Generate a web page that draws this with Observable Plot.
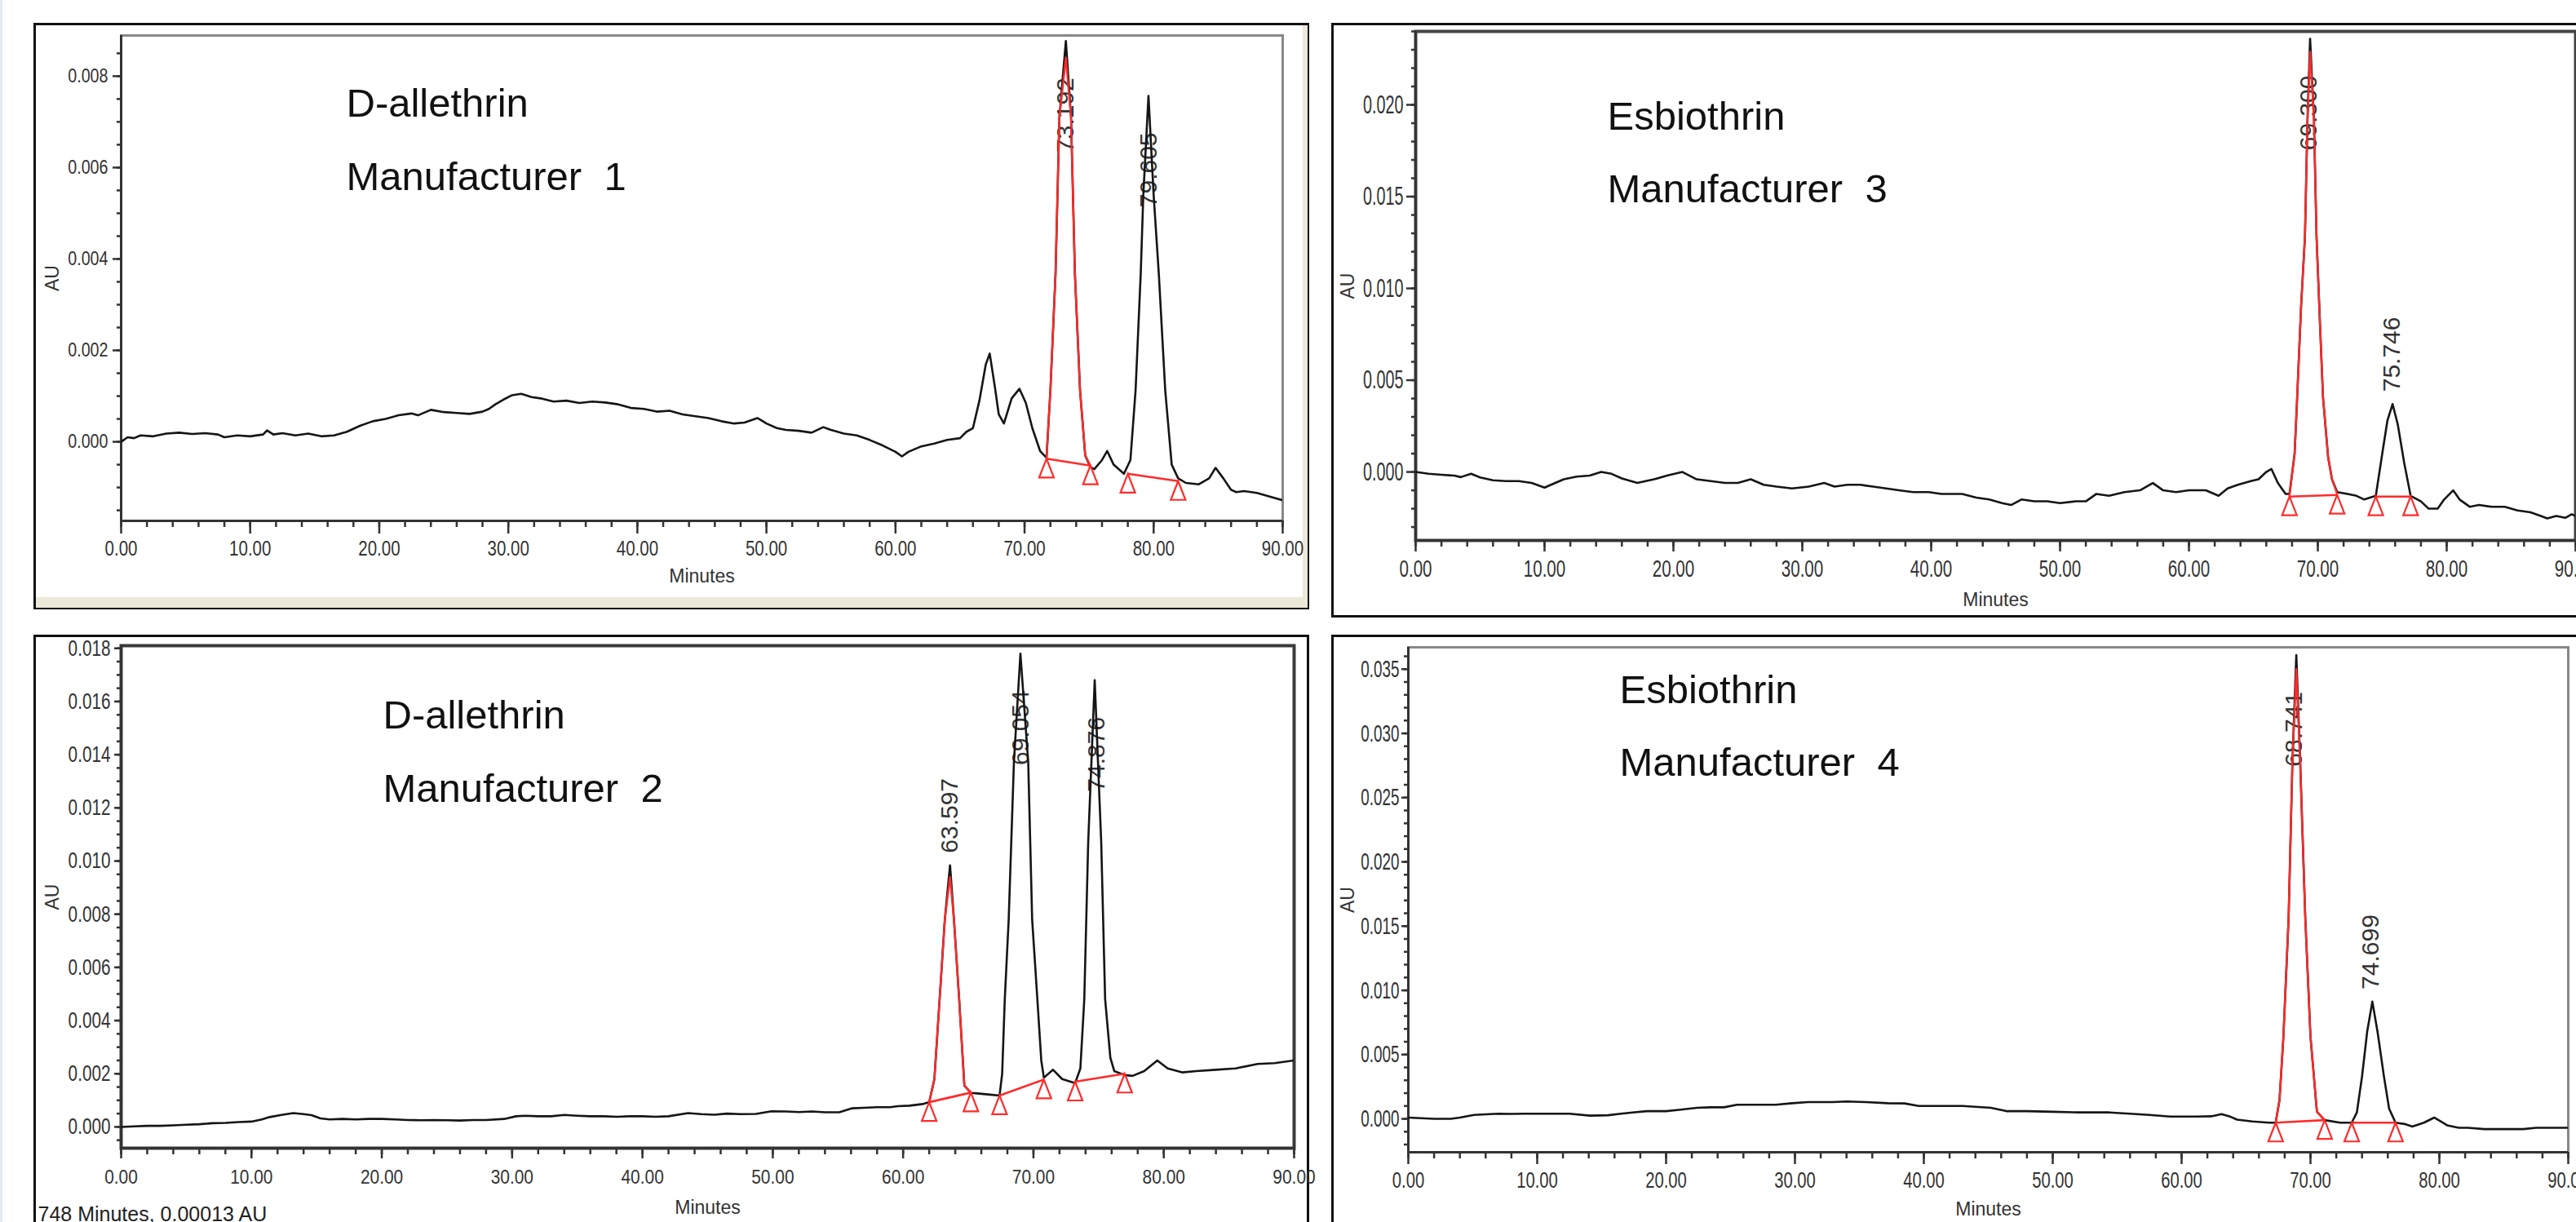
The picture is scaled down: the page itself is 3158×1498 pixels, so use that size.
<!DOCTYPE html>
<html>
<head>
<meta charset="utf-8">
<script src="https://cdn.jsdelivr.net/npm/d3@7"></script>
<script src="https://cdn.jsdelivr.net/npm/@observablehq/plot@0.6"></script>
<style>
html, body { margin: 0; padding: 0; background: #fff; }
body { position: relative; width: 3158px; height: 1498px; overflow: hidden; font-family: "Liberation Sans", Arial, sans-serif; }
.box { position: absolute; box-sizing: border-box; border: 3px solid #111; background: #fff; }
.strip { position: absolute; background: #ece9d8; }
</style>
</head>
<body>
<script>
// ---------------- shared axis ticks ----------------
const xMajorTicks = [0, 10, 20, 30, 40, 50, 60, 70, 80, 90];
const xMinorTicks = d3.range(0, 91, 2);

// ---------------- Panel 1: D-allethrin, Manufacturer 1 ----------------
const p1Names = ["D-allethrin", "Manufacturer  1"];
const p1YDomain = [-0.00173, 0.00889];
const p1YTicks = [0, 0.002, 0.004, 0.006, 0.008];
const p1YMinorStep = 0.0005;
const p1Trace = [
  [0,0.00000],[0.5,0.00010],[1,0.00008],[1.5,0.00014],[2.5,0.00012],[3.5,0.00018],[4.5,0.00020],[5.5,0.00017],
  [6.5,0.00019],[7.5,0.00016],[8,0.00010],[9,0.00014],[10,0.00012],[11,0.00016],[11.3,0.00025],[11.8,0.00016],
  [12.5,0.00019],[13.5,0.00014],[14.5,0.00018],[15.5,0.00012],[16.5,0.00014],[17.5,0.00022],[18.5,0.00035],
  [19.5,0.00045],[20.5,0.00050],[21.5,0.00058],[22.5,0.00062],[23,0.00058],[24,0.00070],[25,0.00065],[26,0.00063],
  [27,0.00061],[28,0.00066],[28.5,0.00072],[29,0.00082],[29.6,0.00092],[30.3,0.00102],[31,0.00105],[31.8,0.00098],
  [32.5,0.00095],[33.5,0.00088],[34.5,0.00090],[35.5,0.00085],[36.5,0.00088],[37.5,0.00086],[38.5,0.00082],
  [39.5,0.00074],[40.5,0.00072],[41.5,0.00066],[42.5,0.00068],[43.5,0.00060],[44.5,0.00056],[45.5,0.00052],
  [46.5,0.00045],[47.5,0.00040],[48.3,0.00042],[49.3,0.00052],[50,0.00040],[50.8,0.00030],[51.5,0.00026],
  [52.5,0.00024],[53.5,0.00020],[54.4,0.00032],[55,0.00026],[56,0.00018],[57,0.00014],[58,0.00004],[59,-0.00008],
  [60,-0.00022],[60.5,-0.00032],[61,-0.00022],[62,-0.00010],[63,-0.00004],[64,0.00004],[65,0.00008],[65.5,0.00022],
  [66,0.00030],[66.5,0.00090],[67,0.00170],[67.3,0.00193],[67.7,0.00120],[68,0.00060],[68.4,0.00040],[69,0.00095],
  [69.6,0.00116],[70.1,0.00085],[70.6,0.00030],[71.2,-0.00020],[71.7,-0.00035],[72,0.00112],[72.4,0.00368],
  [72.7,0.00710],[73.2,0.00877],[73.6,0.00710],[73.9,0.00368],[74.3,0.00112],[74.7,-0.00030],[75.1,-0.00055],
  [75.4,-0.00060],[76,-0.00040],[76.4,-0.00020],[76.9,-0.00050],[77.7,-0.00070],[78.2,-0.00040],[78.6,0.00112],
  [79,0.00368],[79.2,0.00540],[79.6,0.00757],[80,0.00540],[80.4,0.00368],[80.9,0.00112],[81.4,-0.00050],
  [81.9,-0.00080],[82.5,-0.00090],[83.5,-0.00093],[84.3,-0.00080],[84.8,-0.00057],[85.4,-0.00080],[86,-0.00105],
  [86.4,-0.00110],[87,-0.00108],[88,-0.00112],[89,-0.00120],[90,-0.00128]
];
const p1Red = [[71.7,-0.00037],[72,0.00112],[72.4,0.00368],[72.7,0.00710],[73.2,0.00840],[73.6,0.00710],
  [73.9,0.00368],[74.3,0.00112],[74.7,-0.00030],[75.1,-0.00052]];
const p1Bases = [[[71.7,-0.00037],[75.1,-0.00052]], [[78.0,-0.00070],[81.9,-0.00086]]];
const p1PeakTimes = [73.192, 79.605];
const p1PeakHeights = [0.00877, 0.00757];

// ---------------- Panel 2: Esbiothrin, Manufacturer 3 ----------------
const p2Names = ["Esbiothrin", "Manufacturer  3"];
const p2YDomain = [-0.00373, 0.0240];
const p2YTicks = [0, 0.005, 0.010, 0.015, 0.020];
const p2YMinorStep = 0.001;
const p2Trace = [
  [0,0.0000],[1,-0.0001],[2,-0.00015],[3,-0.0002],[3.5,-0.00028],[4.3,-0.0001],[5,-0.0003],[6,-0.00045],[7,-0.0005],
  [8,-0.0005],[9,-0.0006],[10,-0.00085],[10.5,-0.0007],[11.5,-0.0004],[12.5,-0.00025],[13.5,-0.0002],[14.4,0.0000],
  [15.2,-0.0001],[16,-0.00035],[17.2,-0.0006],[18.5,-0.0004],[19.5,-0.0002],[20.7,0.0000],[21.8,-0.0004],[22.9,-0.0005],
  [24,-0.0006],[25,-0.0006],[26,-0.0004],[27,-0.0007],[28,-0.0008],[29.2,-0.0009],[30.5,-0.0008],[31.7,-0.0006],
  [32.5,-0.0008],[33.5,-0.0007],[34.5,-0.0007],[35.5,-0.0008],[36.5,-0.0009],[37.5,-0.0010],[38.6,-0.0011],
  [39.8,-0.0011],[40.8,-0.0012],[42.4,-0.0012],[43.5,-0.0014],[44.5,-0.0015],[45.5,-0.0017],[46.2,-0.0018],
  [47,-0.0015],[48,-0.0016],[49,-0.0016],[50,-0.0017],[51.2,-0.0016],[52,-0.0016],[52.8,-0.0012],[53.8,-0.0013],
  [55,-0.0011],[56.2,-0.0010],[57.2,-0.0006],[58,-0.0010],[59,-0.0011],[60,-0.0010],[61.3,-0.0010],[62.3,-0.0013],
  [63,-0.0009],[63.8,-0.0007],[64.8,-0.0005],[65.4,-0.0004],[66,0.0000],[66.4,0.00016],[66.9,-0.0006],[67.5,-0.0012],
  [67.8,-0.0012],[68.2,0.0010],[68.4,0.0041],[68.7,0.0090],[69,0.0128],[69.2,0.0192],[69.4,0.0236],[69.7,0.0192],
  [69.9,0.0128],[70.2,0.0075],[70.4,0.0041],[70.8,0.0008],[71.1,-0.0004],[71.5,-0.0011],[72.3,-0.0012],[73,-0.0013],
  [73.6,-0.0015],[74.5,-0.0013],[75,0.0010],[75.4,0.0028],[75.8,0.0037],[76.2,0.0026],[76.7,0.0005],[77.2,-0.0013],
  [78,-0.0016],[78.6,-0.0020],[79.3,-0.0020],[79.8,-0.0015],[80.5,-0.0010],[81,-0.0015],[81.8,-0.0019],[82.5,-0.0018],
  [83.5,-0.0019],[84.5,-0.0019],[85.5,-0.0021],[86.5,-0.0022],[87.3,-0.0024],[87.8,-0.00253],[88.5,-0.0024],
  [89.2,-0.0025],[89.7,-0.0023],[90,-0.0024]
];
const p2Red = [[67.8,-0.0013],[68.2,0.0010],[68.4,0.0041],[68.7,0.0090],[69,0.0128],[69.2,0.0192],[69.4,0.0229],
  [69.7,0.0192],[69.9,0.0128],[70.2,0.0075],[70.4,0.0041],[70.8,0.0008],[71.1,-0.0004],[71.5,-0.0012]];
const p2Bases = [[[67.8,-0.00134],[71.5,-0.00125]], [[74.5,-0.00134],[77.2,-0.00134]]];
const p2PeakTimes = [69.300, 75.746];
const p2PeakHeights = [0.0236, 0.0037];

// ---------------- Panel 3: D-allethrin, Manufacturer 2 ----------------
const p3Names = ["D-allethrin", "Manufacturer  2"];
const p3YDomain = [-0.00080, 0.0181];
const p3YTicks = [0, 0.002, 0.004, 0.006, 0.008, 0.010, 0.012, 0.014, 0.016, 0.018];
const p3YMinorStep = 0.0005;
const p3Trace = [
  [0,0.0000],[1,0.00002],[2,0.00004],[3,0.00004],[4,0.00006],[5,0.00008],[6,0.0001],[7,0.00014],[8,0.00015],
  [9,0.00018],[10,0.0002],[10.8,0.00028],[11.4,0.00037],[12.3,0.00045],[13.2,0.00052],[14,0.00048],[14.6,0.00044],
  [15.3,0.00032],[16,0.00028],[17,0.0003],[18,0.00028],[19,0.0003],[20,0.0003],[21,0.00028],[22,0.00026],[23,0.00025],
  [24,0.00026],[25,0.00025],[26,0.00024],[27,0.00026],[28,0.00026],[29.4,0.0003],[30.3,0.0004],[31,0.00042],[32,0.0004],
  [33,0.0004],[34,0.00045],[35,0.00042],[36,0.0004],[37,0.0004],[38,0.00038],[39,0.0004],[40,0.0004],[41,0.00038],
  [42,0.0004],[43.5,0.00052],[44.5,0.00048],[45.5,0.00046],[46.5,0.0005],[47.5,0.00048],[48.7,0.00049],[49.9,0.00059],
  [51,0.00058],[52,0.00056],[53,0.00058],[54,0.00055],[55.1,0.00055],[56.1,0.0007],[57,0.00072],[58,0.00074],
  [59,0.00074],[59.6,0.00078],[60.5,0.0008],[61.5,0.00086],[62,0.00093],[62.4,0.0018],[62.8,0.0048],[63.2,0.0078],
  [63.6,0.00984],[63.9,0.0078],[64.3,0.0048],[64.7,0.00155],[65.2,0.00128],[65.7,0.00126],[66.5,0.00122],
  [67.4,0.00118],[67.6,0.0020],[67.8,0.0048],[68.1,0.0078],[68.5,0.0137],[69,0.0178],[69.6,0.0137],[69.9,0.0078],
  [70.3,0.0048],[70.6,0.0025],[70.8,0.00185],[71.5,0.00215],[72.2,0.0018],[73.2,0.00165],[73.6,0.0022],[73.9,0.0048],
  [74.2,0.0107],[74.7,0.0168],[75.2,0.0107],[75.5,0.0048],[75.9,0.0026],[76.2,0.0021],[77,0.00195],[77.6,0.00192],
  [78.5,0.0021],[79.5,0.0025],[80.3,0.0022],[81.4,0.00205],[82.5,0.0021],[84,0.00215],[85.5,0.0022],[87.2,0.00237],
  [88.5,0.0024],[90,0.0025]
];
const p3Red = [[62,0.00093],[62.4,0.0018],[62.8,0.0048],[63.2,0.0078],[63.6,0.0094],[63.9,0.0078],[64.3,0.0048],
  [64.7,0.00155],[65.2,0.00129]];
const p3Bases = [[[62.0,0.00093],[65.2,0.00129]], [[67.4,0.00118],[70.8,0.00178]], [[73.2,0.00170],[77.0,0.00200]]];
const p3PeakTimes = [63.597, 69.054, 74.876];
const p3PeakHeights = [0.00984, 0.0178, 0.0168];

// ---------------- Panel 4: Esbiothrin, Manufacturer 4 ----------------
const p4Names = ["Esbiothrin", "Manufacturer  4"];
const p4YDomain = [-0.0026, 0.0367];
const p4YTicks = [0, 0.005, 0.010, 0.015, 0.020, 0.025, 0.030, 0.035];
const p4YMinorStep = 0.001;
const p4Trace = [
  [0,0.0001],[1,0.00005],[2,0.0],[3.3,0.0],[4,0.0001],[5.1,0.0003],[6,0.00035],[7,0.0004],[8,0.00038],[9,0.0004],
  [10,0.0004],[11,0.0004],[12.5,0.0004],[14.1,0.00025],[15.5,0.00028],[16.5,0.0004],[17.4,0.0005],[18.5,0.0006],
  [20,0.0006],[21,0.0007],[22.4,0.00086],[23.5,0.0009],[24.5,0.0009],[25.5,0.0011],[27,0.0011],[28.5,0.0011],
  [29.8,0.00122],[31,0.0013],[32.9,0.0013],[34,0.00135],[35.5,0.0013],[37.2,0.00122],[38.5,0.0012],[39.6,0.001],
  [41,0.001],[43,0.001],[45.2,0.00086],[46.4,0.0006],[48,0.0006],[50,0.00055],[52,0.0005],[54.4,0.0005],[56,0.0004],
  [57.5,0.0003],[59.1,0.00018],[61.2,0.00018],[62.3,0.0002],[63.1,0.00037],[63.7,0.0002],[64.3,-0.00006],
  [65.5,-0.0002],[66.8,-0.0003],[67.3,-0.0003],[67.6,0.0015],[67.9,0.0064],[68.3,0.01555],[68.6,0.0278],
  [68.9,0.0361],[69.2,0.0278],[69.6,0.01555],[70,0.0064],[70.5,0.00055],[71.1,-0.0001],[72.3,-0.0003],[73.2,-0.0003],
  [73.6,0.0005],[74,0.0033],[74.4,0.0068],[74.8,0.00912],[75.2,0.0068],[75.7,0.0033],[76.1,0.0008],[76.6,-0.0003],
  [77.3,-0.0004],[77.9,-0.0006],[78.8,-0.0003],[79.6,0.0001],[80.1,-0.0002],[80.6,-0.0005],[81.5,-0.0007],
  [82.2,-0.0007],[83.5,-0.0008],[85,-0.0008],[86.5,-0.0008],[87.5,-0.0007],[89,-0.0007],[90,-0.0007]
];
const p4Red = [[67.3,-0.0003],[67.6,0.0015],[67.9,0.0064],[68.3,0.01555],[68.6,0.0278],[68.9,0.0350],[69.2,0.0278],
  [69.6,0.01555],[70,0.0064],[70.5,0.00055],[71.1,-0.0001]];
const p4Bases = [[[67.3,-0.0003],[71.1,-0.0001]], [[73.2,-0.0003],[76.6,-0.0003]]];
const p4PeakTimes = [68.741, 74.699];
const p4PeakHeights = [0.0361, 0.00912];

const statusText = "748 Minutes, 0.00013 AU";

// ---------------- layout / styles ----------------
const FONT = '"Liberation Sans", Arial, sans-serif';
const RED = "#ff2b2b";
const tri = {draw(ctx) { ctx.moveTo(0, 0); ctx.lineTo(-9, 23); ctx.lineTo(9, 23); ctx.closePath(); }};

const panels = [
  {data: {names: p1Names, yDomain: p1YDomain, yTicks: p1YTicks, yMinorStep: p1YMinorStep, trace: p1Trace, red: p1Red, bases: p1Bases, peakTimes: p1PeakTimes, peakHeights: p1PeakHeights},
   L: {box: [41, 28, 1564, 719], svg: [44, 31, 1558, 713], frame: [148, 43, 1572, 638],
       frameStroke: "#888", frameWidth: 3, yFont: 24, ySq: 0.82, yTick: 10, yPad: 6, xFont: 25, xSq: 0.82, xTick: 16, xPad: 9,
       minutesDy: 68, auDx: 84, nameDx: 276, nameDy: [65, 155]}},
  {data: {names: p2Names, yDomain: p2YDomain, yTicks: p2YTicks, yMinorStep: p2YMinorStep, trace: p2Trace, red: p2Red, bases: p2Bases, peakTimes: p2PeakTimes, peakHeights: p2PeakHeights},
   L: {box: [1632, 28, 1600, 729], svg: [1635, 31, 1560, 723], frame: [1735, 38, 3157, 662],
       frameStroke: "#444", frameWidth: 4, yFont: 32, ySq: 0.62, yTick: 11, yPad: 4, xFont: 29, xSq: 0.71, xTick: 14, xPad: 10,
       minutesDy: 73, auDx: 83, nameDx: 235, nameDy: [86, 175]}},
  {data: {names: p3Names, yDomain: p3YDomain, yTicks: p3YTicks, yMinorStep: p3YMinorStep, trace: p3Trace, red: p3Red, bases: p3Bases, peakTimes: p3PeakTimes, peakHeights: p3PeakHeights, status: statusText},
   L: {box: [41, 778, 1564, 800], svg: [44, 781, 1558, 717], frame: [148, 791, 1586, 1407],
       frameStroke: "#3a3a3a", frameWidth: 4, yFont: 28, ySq: 0.74, yTick: 8, yPad: 5, xFont: 24, xSq: 0.87, xTick: 13, xPad: 13,
       minutesDy: 73, auDx: 84, nameDx: 321, nameDy: [67, 157]}},
  {data: {names: p4Names, yDomain: p4YDomain, yTicks: p4YTicks, yMinorStep: p4YMinorStep, trace: p4Trace, red: p4Red, bases: p4Bases, peakTimes: p4PeakTimes, peakHeights: p4PeakHeights},
   L: {box: [1632, 778, 1600, 800], svg: [1635, 781, 1560, 717], frame: [1726, 793, 3148, 1412],
       frameStroke: "#888", frameWidth: 3, yFont: 30, ySq: 0.63, yTick: 8, yPad: 3, xFont: 27, xSq: 0.75, xTick: 15, xPad: 9,
       minutesDy: 70, auDx: 74, nameDx: 259, nameDy: [34, 123]}}
];

function squeeze(svg, selector, factor) {
  svg.querySelectorAll(selector).forEach(t => {
    const len = t.getComputedTextLength();
    if (len > 0) {
      t.setAttribute("textLength", (len * factor).toFixed(1));
      t.setAttribute("lengthAdjust", "spacingAndGlyphs");
    }
  });
}

// left page edge strip
const edge = document.createElement("div");
edge.style.cssText = "position:absolute;left:0;top:0;width:3px;height:1498px;background:#e3ebee";
document.body.appendChild(edge);

panels.forEach((p, idx) => {
  const d = p.data, L = p.L;
  const box = document.createElement("div");
  box.className = "box";
  box.style.left = L.box[0] + "px"; box.style.top = L.box[1] + "px";
  box.style.width = L.box[2] + "px"; box.style.height = L.box[3] + "px";
  document.body.appendChild(box);
  if (idx === 0) {
    const s1 = document.createElement("div"); s1.className = "strip";
    s1.style.cssText += "left:1597px;top:31px;width:6px;height:714px";
    const s2 = document.createElement("div"); s2.className = "strip";
    s2.style.cssText += "left:44px;top:732px;width:1559px;height:13px";
    document.body.appendChild(s1); document.body.appendChild(s2);
  }

  const [sx, sy, sw, sh] = L.svg;
  const [fx1, fy1, fx2, fy2] = L.frame;
  const frameH = fy2 - fy1;
  const [y0, y1] = d.yDomain;
  const peaks = d.peakTimes.map((t, i) => ({t, apex: d.peakHeights[i], label: t.toFixed(3)}));
  const inside = q => (y1 - q.apex) / (y1 - y0) * frameH < 130;
  const ends = d.bases.flat();
  const st = d.yMinorStep;
  const yMinor = d3.range(Math.ceil(y0 / st - 1e-9), Math.floor(y1 / st + 1e-9) + 1).map(k => +(k * st).toFixed(6));

  const textMarks = [
    Plot.text([d.names[0]], {text: s => s, frameAnchor: "top-left", dx: L.nameDx, dy: L.nameDy[0], textAnchor: "start", lineAnchor: "top", fontSize: 49, fill: "#111"}),
    Plot.text([d.names[1]], {text: s => s, frameAnchor: "top-left", dx: L.nameDx, dy: L.nameDy[1], textAnchor: "start", lineAnchor: "top", fontSize: 49, fill: "#111"}),
    Plot.text(["Minutes"], {text: s => s, frameAnchor: "bottom", dy: L.minutesDy, textAnchor: "middle", lineAnchor: "middle", fontSize: 23, fill: "#333", ariaLabel: "condensed"}),
    Plot.text(["AU"], {text: s => s, frameAnchor: "left", dx: -L.auDx, rotate: -90, textAnchor: "middle", lineAnchor: "middle", fontSize: 23, fill: "#333", ariaLabel: "condensed"})
  ];
  if (d.status) {
    textMarks.push(Plot.text([d.status], {text: s => s, frameAnchor: "bottom-left", dx: 46 - fx1, dy: 1479 - fy2, textAnchor: "start", lineAnchor: "top", fontSize: 25, fill: "#222", ariaLabel: "condensed"}));
  }

  const chart = Plot.plot({
    width: sw, height: sh,
    marginLeft: fx1 - sx, marginTop: fy1 - sy, marginRight: sx + sw - fx2, marginBottom: sy + sh - fy2,
    x: {domain: [0, 90]},
    y: {domain: d.yDomain},
    style: {fontFamily: FONT, background: "transparent", color: "#333", overflow: "visible"},
    marks: [
      Plot.frame({stroke: L.frameStroke, strokeWidth: L.frameWidth}),
      Plot.axisY(yMinor, {tickSize: 5, tickFormat: () => "", label: null, stroke: "#333", strokeWidth: 2.5}),
      Plot.axisY(d.yTicks, {tickSize: L.yTick, tickPadding: L.yPad, tickFormat: d3.format(".3f"), label: null, fontSize: L.yFont, stroke: "#333", strokeWidth: 2.5}),
      Plot.axisX(xMinorTicks, {tickSize: 8, tickFormat: () => "", label: null, stroke: "#333", strokeWidth: 2.5}),
      Plot.axisX(xMajorTicks, {tickSize: L.xTick, tickPadding: L.xPad, tickFormat: d3.format(".2f"), label: null, fontSize: L.xFont, stroke: "#333", strokeWidth: 2.5}),
      Plot.ruleX([0], {stroke: "#333", strokeWidth: 3}),
      Plot.ruleY([y0], {stroke: "#333", strokeWidth: 3}),
      Plot.text(peaks.filter(inside), {x: "t", y: "apex", text: "label", rotate: -90, textAnchor: "end", lineAnchor: "middle", dy: 45, fontSize: 30, fill: "#333"}),
      Plot.text(peaks.filter(q => !inside(q)), {x: "t", y: "apex", text: "label", rotate: -90, textAnchor: "start", lineAnchor: "middle", dy: -15, fontSize: 30, fill: "#333"}),
      Plot.line(d.trace, {x: q => q[0], y: q => q[1], stroke: "#151515", strokeWidth: 2.6, clip: true}),
      Plot.link(d.bases, {x1: b => b[0][0], y1: b => b[0][1], x2: b => b[1][0], y2: b => b[1][1], stroke: RED, strokeWidth: 2.6}),
      Plot.line(d.red, {x: q => q[0], y: q => q[1], stroke: RED, strokeWidth: 2.4, clip: true}),
      Plot.dot(ends, {x: q => q[0], y: q => q[1], symbol: tri, r: 5, stroke: RED, strokeWidth: 2.2, fill: "none"}),
      ...textMarks
    ]
  });
  chart.style.position = "absolute";
  chart.style.left = sx + "px";
  chart.style.top = sy + "px";
  chart.style.maxWidth = "none";
  document.body.appendChild(chart);

  squeeze(chart, 'g[aria-label="y-axis tick label"] text', L.ySq);
  squeeze(chart, 'g[aria-label="x-axis tick label"] text', L.xSq);
  squeeze(chart, 'g[aria-label="condensed"] text', 0.88);
});
</script>
</body>
</html>
